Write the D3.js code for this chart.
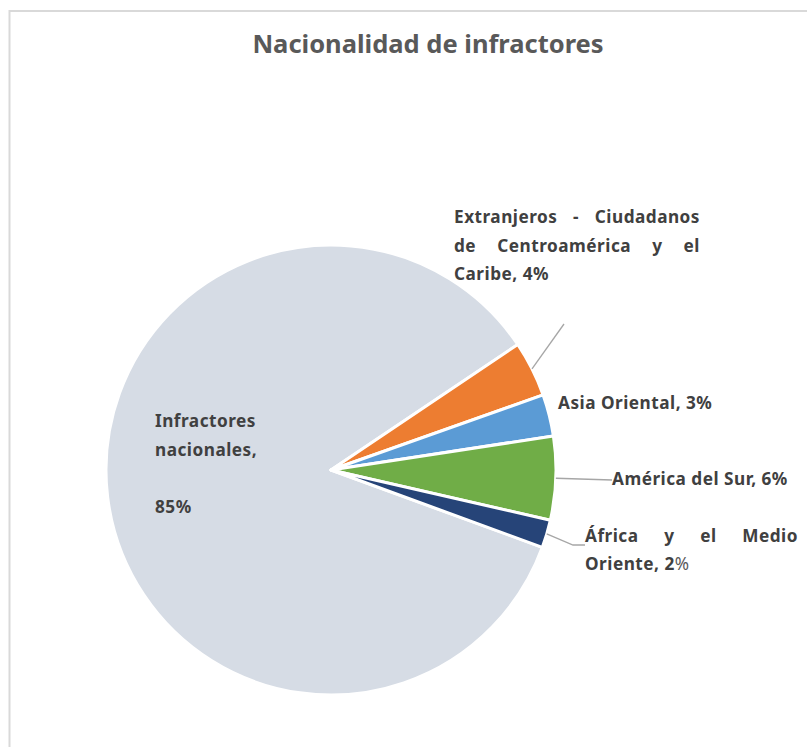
<!DOCTYPE html>
<html>
<head>
<meta charset="utf-8">
<script src="https://cdn.jsdelivr.net/npm/d3@7"></script>
<style>
  body { margin: 0; background: #fff; }
  text { font-family: "Noto Sans", sans-serif; }
</style>
</head>
<body>
<svg id="chart"></svg>
<script>
// data
const categories = [
    "Infractores nacionales",
    "Extranjeros - Ciudadanos de Centroamérica y el Caribe",
    "Asia Oriental",
    "América del Sur",
    "África y el Medio Oriente"
];
const values = [85, 4, 3, 6, 2];
const colors = ["#d6dce5", "#ed7d31", "#5b9bd5", "#70ad47", "#264478"];
// label text, broken into lines as in the original ({v} = percentage)
const labelLines = [
    ["Infractores", "nacionales,", "", "{v}"],
    ["Extranjeros - Ciudadanos", "de Centroamérica y el", "Caribe, {v}"],
    ["Asia Oriental, {v}"],
    ["América del Sur, {v}"],
    ["África y el Medio", "Oriente, {v}"]
];

// layout
const W = 807, H = 747;
const cx = 331, cy = 470, radius = 225;
const startDeg = 110.1;

const labelLayout = [
    {x: 155, y: 427, lh: 28.7},
    {x: 454, y: 223, lh: 28.7, width: 246, leader: [[564, 324]]},
    {x: 558, y: 409},
    {x: 612, y: 485, leader: [[612, 480]]},
    {x: 585, y: 542, lh: 28, width: 213, leader: [[573, 545], [585, 545]], thinPercent: true}
];

const svg = d3.select("#chart")
    .attr("width", W)
    .attr("height", H);

// chart border
svg.append("rect")
    .attr("x", 9.5)
    .attr("y", 11)
    .attr("width", W + 10)
    .attr("height", H + 10)
    .attr("fill", "none")
    .attr("stroke", "#d9d9d9")
    .attr("stroke-width", 2);

// title
svg.append("text")
    .attr("x", 428)
    .attr("y", 53)
    .attr("text-anchor", "middle")
    .attr("font-size", 25.5)
    .attr("font-weight", "bold")
    .attr("fill", "#595959")
    .text("Nacionalidad de infractores");

const data = categories.map((c, i) => ({name: c, value: values[i], color: colors[i], idx: i}));

const start = startDeg * Math.PI / 180;
const pie = d3.pie()
    .sort(null)
    .value(d => d.value)
    .startAngle(start)
    .endAngle(start + 2 * Math.PI);

const arc = d3.arc().innerRadius(0).outerRadius(radius);

const arcs = pie(data);

const g = svg.append("g")
    .attr("transform", `translate(${cx},${cy})`);

g.selectAll("path.slice")
    .data(arcs)
    .enter()
    .append("path")
    .attr("class", "slice")
    .attr("d", arc)
    .attr("fill", d => d.data.color)
    .attr("stroke", "#fff")
    .attr("stroke-width", 3)
    .attr("stroke-linejoin", "round");

// leader lines: from the outer edge at the mid angle to the label anchor
arcs.forEach((a, i) => {
    const lay = labelLayout[i];
    if (!lay.leader) return;
    const mid = (a.startAngle + a.endAngle) / 2;
    const p0 = [cx + radius * Math.sin(mid), cy - radius * Math.cos(mid)];
    const pts = [p0].concat(lay.leader);
    svg.append("path")
        .attr("d", d3.line()(pts))
        .attr("fill", "none")
        .attr("stroke", "#a6a6a6")
        .attr("stroke-width", 1.3);
});

// labels
const labelG = svg.append("g")
    .attr("font-size", 17.2)
    .attr("font-weight", "bold")
    .attr("fill", "#404040")
    .attr("letter-spacing", 0.5);

labelLines.forEach((lines, i) => {
    const lay = labelLayout[i];
    const pct = values[i] + "%";
    lines.forEach((line, li) => {
        if (!line) return;
        const y = lay.y + li * (lay.lh || 0);
        const isLast = li === lines.length - 1;
        if (lay.width && !isLast) {
            // justified line: spread words across the width
            const words = line.split(" ");
            const nodes = words.map(w => labelG.append("text").attr("y", y).text(w));
            const widths = nodes.map(n => n.node().getComputedTextLength());
            const gap = (lay.width - d3.sum(widths)) / (words.length - 1);
            let x = lay.x;
            nodes.forEach((n, k) => {
                n.attr("x", x);
                x += widths[k] + gap;
            });
        } else {
            const t = labelG.append("text").attr("x", lay.x).attr("y", y);
            const parts = line.split("{v}");
            t.append("tspan").text(parts[0]);
            if (parts.length > 1) {
                if (lay.thinPercent) {
                    t.append("tspan").text(values[i]);
                    t.append("tspan").attr("font-weight", "normal").attr("fill", "#595959").text("%");
                } else {
                    t.append("tspan").text(pct);
                }
                t.append("tspan").text(parts[1]);
            }
        }
    });
});
</script>
</body>
</html>
